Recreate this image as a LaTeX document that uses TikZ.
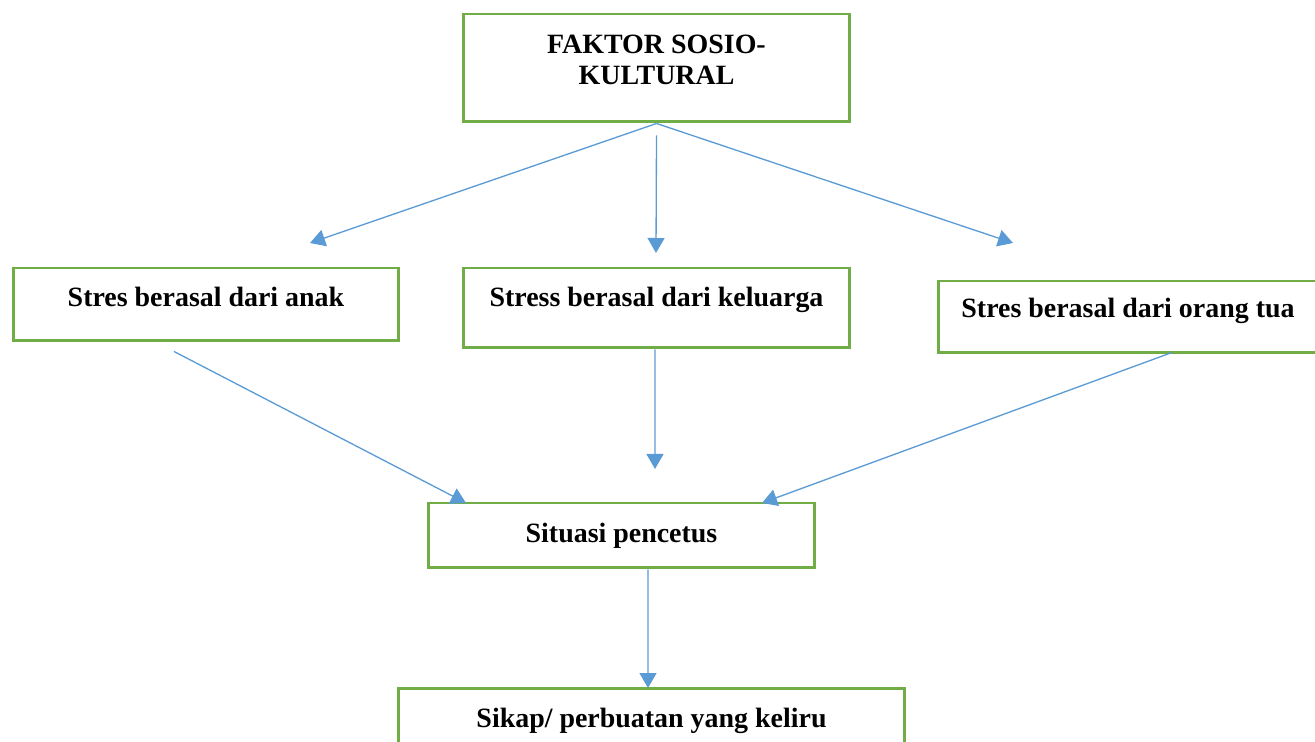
\documentclass[tikz,border=0pt]{standalone}
\usepackage{fontspec}
\setmainfont{Liberation Serif}
\usetikzlibrary{arrows.meta, positioning, calc}
\definecolor{cgreen}{HTML}{70AD47}
\definecolor{cblue}{HTML}{5B9BD5}
\tikzset{
  every picture/.style={font=\bfseries\fontsize{15.9pt}{18.1pt}\selectfont},
  box/.style={draw=cgreen, line width=1.7pt, inner sep=0pt, align=center, anchor=base},
  link/.style={draw=cblue, line width=0.75pt, -{Triangle[length=0.3cm, width=0.34cm]}},
}

\begin{document}
\begin{tikzpicture}[x=0.02cm, y=-0.02cm]
  \clip (0,0) rectangle (1315,742);
  % boxes: name / x / baseline (last line) / width / text height / text depth / text
  \foreach \n/\x/\b/\w/\th/\td/\t in {sosio/656.5/85/7.74/1.42/0.74/{FAKTOR SOSIO-\\KULTURAL},
      anak/206/307/7.72/0.78/0.68/{Stres berasal dari anak}, keluarga/656.5/307/7.74/0.78/0.82/{Stress berasal dari keluarga},
      ortu/1128/318/7.6/0.74/0.70/{Stres berasal dari orang tua}, pencetus/621.5/543/7.74/0.80/0.50/{Situasi pencetus},
      sikap/651.5/727/10.14/0.78/0.96/{Sikap/ perbuatan yang keliru}}
    \node[box, minimum width=\w cm, text height=\th cm, text depth=\td cm] (\n) at (\x,\b) {\t};
  % free arrow ends (heads stop short of the boxes)
  \coordinate (hanak) at (310,243);
  \coordinate (hkeluarga) at (656,253);
  \coordinate (hortu) at (1013,243);
  \coordinate (hpa) at (466,503);
  \coordinate (hpk) at (655,469);
  \coordinate (hpo) at (762,503);
  \coordinate (hsikap) at (648,688);
  \draw[link] (sosio.south) -- (hanak);
  \draw[link] ([yshift=-0.24cm]sosio.south) -- (hkeluarga);
  \draw[link] (sosio.south) -- (hortu);
  \draw[link] ([xshift=-0.64cm, yshift=-0.18cm]anak.south) -- (hpa);
  \draw[link] ([xshift=-0.03cm]keluarga.south) -- (hpk);
  \draw[link] ([xshift=0.88cm, yshift=0.04cm]ortu.south) -- (hpo);
  \draw[link] ([xshift=0.53cm]pencetus.south) -- (hsikap);
\end{tikzpicture}
\end{document}
